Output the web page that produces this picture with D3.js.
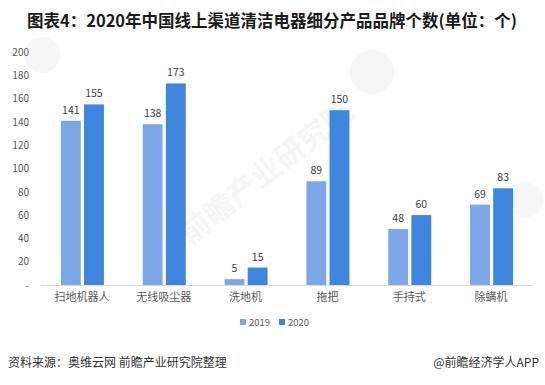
<!DOCTYPE html>
<html>
<head>
<meta charset="utf-8">
<script src="https://cdn.jsdelivr.net/npm/d3@7"></script>
<style>
  body { margin: 0; background: #fff; }
  text { font-family: "Microsoft YaHei", "Noto Sans CJK SC", sans-serif; }
</style>
</head>
<body>
<div id="chart"></div>
<script>
// chart data
var categories = ["扫地机器人", "无线吸尘器", "洗地机", "拖把", "手持式", "除螨机"];
var seriesNames = ["2019", "2020"];
var values2019 = [141, 138, 5, 89, 48, 69];
var values2020 = [155, 173, 15, 150, 60, 83];
var yTicks = [0, 20, 40, 60, 80, 100, 120, 140, 160, 180, 200];

var svgWidth = 545;
var svgHeight = 385;

var margin = { top: 52, right: 13, bottom: 100, left: 41 };
var width = svgWidth - margin.left - margin.right;
var height = svgHeight - margin.top - margin.bottom;

var colors = ["#7ba7e6", "#3d85dd"];

var svg = d3.select("#chart")
  .append("svg")
  .attr("width", svgWidth)
  .attr("height", svgHeight);

// faint watermark
var wm = svg.append("g").attr("opacity", 0.05);
wm.append("text")
  .attr("transform", "translate(190,245) rotate(-38)")
  .attr("font-size", 30)
  .attr("font-weight", "bold")
  .attr("fill", "#5a6a8a")
  .text("前瞻产业研究院");
wm.append("circle").attr("cx", 372).attr("cy", 72).attr("r", 22).attr("fill", "#5a6a8a");
wm.append("circle").attr("cx", 525).attr("cy", 200).attr("r", 18).attr("fill", "#5a6a8a");
wm.append("circle").attr("cx", 42).attr("cy", 55).attr("r", 18).attr("fill", "#5a6a8a");

// title
svg.append("text")
  .attr("x", 272)
  .attr("y", 27)
  .attr("text-anchor", "middle")
  .attr("font-size", 16.5)
  .attr("font-weight", "bold")
  .attr("fill", "#1a1a1a")
  .text("图表4：2020年中国线上渠道清洁电器细分产品品牌个数(单位：个)");

var chartGroup = svg.append("g")
  .attr("transform", `translate(${margin.left}, ${margin.top})`);

var x0 = d3.scaleBand()
  .domain(categories)
  .range([0, width])
  .paddingInner(0)
  .paddingOuter(0);

var x1 = d3.scaleBand()
  .domain(seriesNames)
  .range([x0.bandwidth() / 2 - 21, x0.bandwidth() / 2 + 22])
  .paddingInner(0.14);

var yLinearScale = d3.scaleLinear()
  .domain([0, 200])
  .range([height, 0]);

// y axis labels
var leftAxis = d3.axisLeft(yLinearScale)
  .tickValues(yTicks)
  .tickSize(0)
  .tickPadding(12)
  .tickFormat(d => d === 0 ? "-" : d);

var yAxis = chartGroup.append("g").call(leftAxis);
yAxis.select(".domain").remove();
yAxis.selectAll("text")
  .attr("font-size", 10)
  .attr("fill", "#595959");

// baseline
chartGroup.append("line")
  .attr("x1", 0)
  .attr("x2", width)
  .attr("y1", height + 0.5)
  .attr("y2", height + 0.5)
  .attr("stroke", "#d9d9d9");

// x axis labels
var bottomAxis = d3.axisBottom(x0).tickSize(0).tickPadding(8);
var xAxis = chartGroup.append("g")
  .attr("transform", `translate(0, ${height})`)
  .call(bottomAxis);
xAxis.select(".domain").remove();
xAxis.selectAll("text")
  .attr("font-size", 11)
  .attr("fill", "#595959");

var rows = categories.map((c, i) => ({ cat: c, vals: [values2019[i], values2020[i]] }));

var groups = chartGroup.selectAll("g.cat")
  .data(rows)
  .enter()
  .append("g")
  .attr("class", "cat")
  .attr("transform", d => `translate(${x0(d.cat)}, 0)`);

groups.selectAll("rect")
  .data(d => d.vals.map((v, j) => ({ key: seriesNames[j], v: v, j: j })))
  .enter()
  .append("rect")
  .attr("x", d => x1(d.key))
  .attr("width", x1.bandwidth())
  .attr("y", d => yLinearScale(d.v))
  .attr("height", d => height - yLinearScale(d.v))
  .attr("fill", d => colors[d.j]);

groups.selectAll("text.val")
  .data(d => d.vals.map((v, j) => ({ key: seriesNames[j], v: v, j: j })))
  .enter()
  .append("text")
  .attr("class", "val")
  .attr("x", d => x1(d.key) + x1.bandwidth() / 2)
  .attr("y", d => yLinearScale(d.v) - 7)
  .attr("text-anchor", "middle")
  .attr("font-size", 10.5)
  .attr("fill", "#404040")
  .text(d => d.v);

// legend
var legend = svg.append("g").attr("transform", "translate(240, 323)");
seriesNames.forEach(function(name, i) {
  var lg = legend.append("g").attr("transform", `translate(${i * 39}, 0)`);
  lg.append("rect")
    .attr("x", 0).attr("y", -4)
    .attr("width", 6).attr("height", 6)
    .attr("fill", colors[i]);
  lg.append("text")
    .attr("x", 9).attr("y", 2.5)
    .attr("font-size", 9.5)
    .attr("fill", "#595959")
    .text(name);
});

// footer
svg.append("text")
  .attr("x", 8)
  .attr("y", 367)
  .attr("font-size", 12)
  .attr("fill", "#333")
  .text("资料来源：奥维云网 前瞻产业研究院整理");

svg.append("text")
  .attr("x", 539)
  .attr("y", 367)
  .attr("text-anchor", "end")
  .attr("font-size", 12)
  .attr("fill", "#333")
  .text("@前瞻经济学人APP");
</script>
</body>
</html>
